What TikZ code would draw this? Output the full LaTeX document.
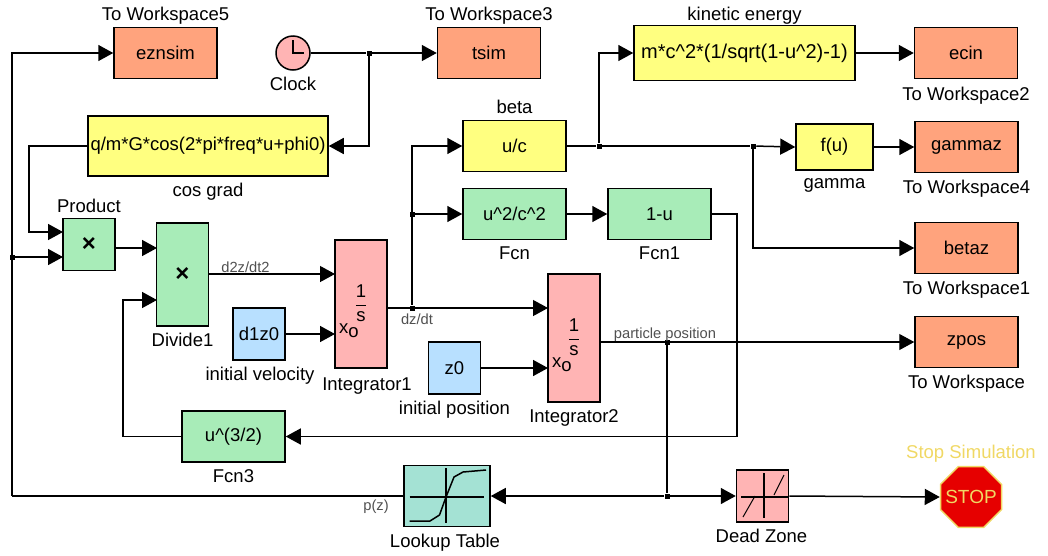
\documentclass[tikz,border=0pt]{standalone}
\usepackage{fontspec}
\setmainfont{Liberation Sans}
\usetikzlibrary{arrows.meta,positioning,shapes.geometric}
\definecolor{myorange}{RGB}{255,163,125}
\definecolor{mygreen}{RGB}{168,236,184}
\definecolor{myyellow}{RGB}{255,255,128}
\definecolor{myblue}{RGB}{184,224,255}
\definecolor{mypink}{RGB}{255,180,180}
\definecolor{myteal}{RGB}{164,226,212}
\definecolor{myred}{RGB}{230,0,0}
\definecolor{mygold}{RGB}{240,216,100}
\definecolor{mygrey}{RGB}{80,80,80}

\begin{document}
\begin{tikzpicture}[x=1pt,y=-1pt,line width=1.5pt,
  block/.style={draw,rectangle,inner sep=0pt,minimum width=#1,font=\fontsize{18.5}{20}\selectfont},
  block/.default=52pt,
  wsnode/.style={block=103pt,minimum height=51pt,fill=myorange},
  fsnode/.style={block=103pt,minimum height=51pt,fill=mygreen},
  ysnode/.style={block,minimum height=55pt,fill=myyellow},
  cnode/.style={block,minimum height=52pt,fill=myblue},
  inode/.style={block,fill=mypink},
  blab/.style={inner sep=0pt,font=\fontsize{18.5}{20}\selectfont},
  siglab/.style={inner sep=0pt,text=mygrey,font=\fontsize{14.7}{16}\selectfont},
  junc/.style={fill,inner sep=0pt,minimum size=5pt},
  sig/.style={-{Triangle[length=15pt,width=16pt]}}]

  \useasboundingbox (0,0) rectangle (1048,555);

  % top row
  \node[wsnode] (eznsim) at (165.5,53) {eznsim};
  \node[wsnode] (tsim) at (489,53) {tsim};
  \node[draw,circle,inner sep=0pt,minimum size=34pt,fill=mypink] (clock) at (293,53) {};
  \draw[line width=1.2pt] (293,40) -- (293,53) -- (304,53);
  \node[ysnode,minimum width=221pt,font=\fontsize{20}{22}\selectfont] (kinetic) at (744.5,53) {m*c\^{}2*(1/sqrt(1-u\^{}2)-1)};
  \node[wsnode] (ecin) at (966,53) {ecin};

  \node[ysnode,minimum width=240pt,minimum height=60pt] (cosgrad) at (208,146) {q/m*G*cos(2*pi*freq*u+phi0)};
  \node[fsnode,fill=myyellow] (uc) at (514.5,146) {u/c};
  \node[block=77pt,minimum height=46pt,fill=myyellow] (fu) at (834.5,147) {f(u)};
  \node[wsnode] (gammaz) at (966.5,147) {gammaz};

  % middle part
  \node[fsnode] (fcn) at (514.5,214) {u\^{}2/c\^{}2};
  \node[fsnode] (fcnone) at (659.5,214) {1-u};
  \node[wsnode] (betaz) at (966.5,248) {betaz};
  \node[block,minimum height=52pt,fill=mygreen,font=\bfseries\fontsize{24}{26}\selectfont] (product) at (89,244.5) {×};
  \node[block,minimum height=103pt,fill=mygreen,font=\bfseries\fontsize{24}{26}\selectfont] (divide) at (182.5,274.5) {×};
  \node[inode,minimum height=128pt] (intone) at (361,304) {};
  \node[cnode] (dzero) at (259,334) {d1z0};
  \node[inode,minimum height=128pt] (inttwo) at (574,338) {};
  \node[cnode] (zzero) at (454.5,368) {z0};
  \node[wsnode] (zpos) at (966.5,342) {zpos};
  \node[fsnode] (fcnthree) at (233.5,436.5) {u\^{}(3/2)};

  % text inside integrators
  \node[blab] (fracone) at (361,303) {$\displaystyle\frac{\mbox{1}}{\mbox{s}}$};
  \node[blab] (xone) at (349,331) {x\raisebox{-4pt}{o}};
  \node[blab] (fractwo) at (574,337) {$\displaystyle\frac{\mbox{1}}{\mbox{s}}$};
  \node[blab] (xtwo) at (562,365) {x\raisebox{-4pt}{o}};

  % bottom row
  \node[block=86pt,minimum height=61pt,fill=myteal] (lookup) at (447,496) {};
  \draw[line width=1.2pt] (409.5,497) -- (483.5,497) (446,468) -- (446,523);
  \draw[line width=1.5pt] (409.5,521) -- (430,521) -- (439.5,515) -- (446,497) -- (454,477) -- (463,472) -- (486,470);
  \node[inode,minimum height=52pt] (deadzone) at (762.5,496) {};
  \draw[line width=1.2pt] (741,497) -- (787.5,497) (764,473) -- (764,518);
  \draw[line width=1pt] (743,517) -- (755,496) (774,495) -- (784,475);
  \node[regular polygon,regular polygon sides=8,draw=mygold,fill=myred,inner sep=0pt,
    minimum size=66pt,text=mygold,font=\fontsize{19}{20}\selectfont] (stop) at (971,497) {\makebox[0pt]{STOP}};

  % labels of the blocks
  \node[blab,above=2pt of eznsim] (eznsimlab) {To Workspace5};
  \node[blab,above=2pt of tsim] (tsimlab) {To Workspace3};
  \node[blab,below=6pt of clock] (clocklab) {Clock};
  \node[blab,above=0pt of kinetic] (kineticlab) {kinetic energy};
  \node[blab,below=7pt of ecin] (ecinlab) {To Workspace2};
  \node[blab,above=5pt of uc] (uclab) {beta};
  \node[blab,below=6pt of cosgrad] (cosgradlab) {cos grad};
  \node[blab,below=7pt of fu] (fulab) {gamma};
  \node[blab,below=6pt of gammaz] (gammazlab) {To Workspace4};
  \node[blab,below=6pt of fcn] (fcnlab) {Fcn};
  \node[blab,below=6pt of fcnone] (fcnonelab) {Fcn1};
  \node[blab,below=6pt of betaz] (betazlab) {To Workspace1};
  \node[blab,above=4pt of product] (productlab) {Product};
  \node[blab,below=6pt of divide] (dividelab) {Divide1};
  \node[blab,below=6pt of dzero,xshift=1pt] (dzerolab) {initial velocity};
  \node[blab,below=8pt of intone,xshift=6pt] (intonelab) {Integrator1};
  \node[blab,below=6pt of zzero] (zzerolab) {initial position};
  \node[blab,below=6pt of inttwo] (inttwolab) {Integrator2};
  \node[blab,below=6pt of zpos] (zposlab) {To Workspace};
  \node[blab,below=6pt of fcnthree] (fcnthreelab) {Fcn3};
  \node[blab,below=6pt of lookup,xshift=-2pt] (lookuplab) {Lookup Table};
  \node[blab,below=6pt of deadzone,xshift=-1pt] (deadzonelab) {Dead Zone};
  \node[blab,text=mygold,above=3pt of stop] (stoplab) {Stop Simulation};

  % junctions and free corners
  \node[junc] (jclock) at (369,53) {};
  \node[junc] (jleft) at (12,257) {};
  \node[junc] (jvel) at (412,308) {};
  \node[junc] (jfcn) at (412,214) {};
  \node[junc] (jkin) at (599,146) {};
  \node[junc] (jbeta) at (753,146) {};
  \node[junc] (jpos) at (667,342) {};
  \node[junc] (jbot) at (667,496) {};
  \coordinate (cornerA) at (29,232);
  \coordinate (cornerB) at (12,53);
  \coordinate (cornerC) at (12,496);
  \coordinate (cornerD) at (123,300);
  \coordinate (cornerE) at (737,436.5);
  \coordinate (prodinA) at (63,232);
  \coordinate (prodinB) at (63,257);
  \coordinate (divinA) at (157,248);
  \coordinate (divinB) at (157,300);
  \coordinate (prodout) at (115,248);
  \coordinate (divout) at (208.5,274);
  \coordinate (intinA) at (335,274);
  \coordinate (intinB) at (335,334);
  \coordinate (intoutA) at (387,308);
  \coordinate (inttwoinA) at (548,308);
  \coordinate (inttwoinB) at (548,368);
  \coordinate (inttwoout) at (600,342);

  % draw connections at the top
  \draw (clock.east) -- (jclock);
  \draw[sig] (jclock) -- (tsim.west);
  \draw[sig] (jclock) |- (cosgrad.east);
  \draw[sig] (cosgrad.west) -| (cornerA) -- (prodinA);
  \draw[sig] (jkin) |- (kinetic.west);
  \draw[sig] (kinetic.east) -- (ecin.west);
  \draw (uc.east) -- (jkin) -- (jbeta);
  \draw[sig] (jbeta) -- (fu.west);
  \draw[sig] (fu.east) -- (gammaz.west);
  \draw[sig] (jbeta) |- (betaz.west);

  % draw connections of the left wire
  \draw[sig] (jleft) -- (prodinB);
  \draw[sig] (cornerC) -- (cornerB) -- (eznsim.west);
  \draw (lookup.west) -- (cornerC);

  % draw connections in the middle
  \draw[sig] (prodout) -- (divinA);
  \draw[line width=1.2pt,sig] (divout) -- (intinA);
  \draw[sig] (dzero.east) -- (intinB);
  \draw[line width=1.2pt,sig] (intoutA) -- (inttwoinA);
  \draw[sig] (jvel) |- (uc.west);
  \draw[sig] (jfcn) -- (fcn.west);
  \draw[sig] (fcn.east) -- (fcnone.west);
  \draw[sig] (fcnone.east) -| (cornerE) -- (fcnthree.east);
  \draw[sig] (fcnthree.west) -| (cornerD) -- (divinB);
  \draw[sig] (zzero.east) -- (inttwoinB);
  \draw[line width=1.2pt,sig] (inttwoout) -- (zpos.west);

  % draw connections at the bottom
  \draw (jpos) -- (jbot);
  \draw[sig] (jbot) -- (lookup.east);
  \draw[sig] (jbot) -- (deadzone.west);
  \draw[sig] (deadzone.east) -- (stop.west);

  % labels on the signals
  \node[siglab] (accel) at (245.5,267) {d2z/dt2};
  \node[siglab] (veloc) at (417,319) {dz/dt};
  \node[siglab] (partic) at (665,335) {particle position};
  \node[siglab] (pofz) at (376,507) {p(z)};
\end{tikzpicture}
\end{document}
